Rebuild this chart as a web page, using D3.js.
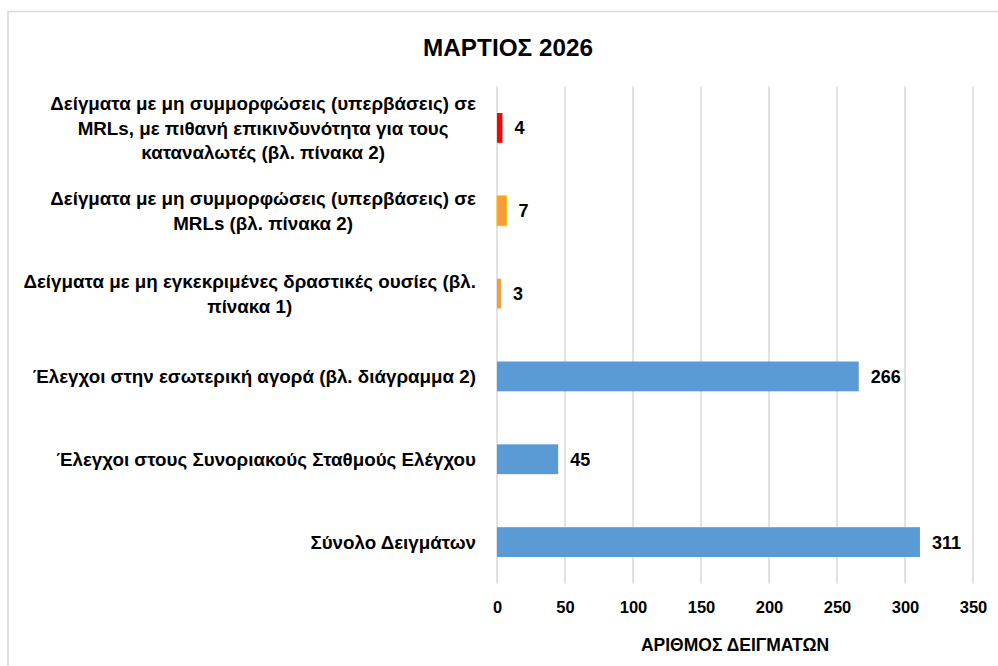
<!DOCTYPE html>
<html>
<head>
<meta charset="utf-8">
<script src="https://cdn.jsdelivr.net/npm/d3@7"></script>
<style>
  html, body { margin: 0; padding: 0; background: #fff; }
  svg { display: block; font-family: "Liberation Sans", Arial, sans-serif; }
</style>
</head>
<body>
<svg id="chart" width="998" height="666"></svg>
<script>
const categories = [
  ["Δείγματα με μη συμμορφώσεις (υπερβάσεις) σε", "MRLs, με πιθανή επικινδυνότητα για τους", "καταναλωτές (βλ. πίνακα 2)"],
  ["Δείγματα με μη συμμορφώσεις (υπερβάσεις) σε", "MRLs (βλ. πίνακα 2)"],
  ["Δείγματα με μη εγκεκριμένες δραστικές ουσίες (βλ.", "πίνακα 1)"],
  ["Έλεγχοι στην εσωτερική αγορά (βλ. διάγραμμα 2)"],
  ["Έλεγχοι στους Συνοριακούς Σταθμούς Ελέγχου"],
  ["Σύνολο Δειγμάτων"]
];
const values = [4, 7, 3, 266, 45, 311];
const barColors = ["#FF0000", "#F79B3C", "#F79B3C", "#5B9BD5", "#5B9BD5", "#5B9BD5"];
const barStrokes = ["none", "#FFC000", "none", "none", "none", "none"];
const xTicks = [0, 50, 100, 150, 200, 250, 300, 350];
const title = "ΜΑΡΤΙΟΣ 2026";
const xTitle = "ΑΡΙΘΜΟΣ ΔΕΙΓΜΑΤΩΝ";

(function () {
const svg = d3.select("#chart");
const pL = 497, pR = 973, pT = 86.5, pB = 583.5;

// outer border
svg.append("rect").attr("x", 8).attr("y", 11.5).attr("width", 1100).attr("height", 800)
  .attr("fill", "#fff").attr("stroke", "#D9D9D9").attr("stroke-width", 1.5);

const x = d3.scaleLinear().domain([0, 350]).range([pL, pR]);
const y = d3.scaleBand().domain(d3.range(categories.length)).range([pT, pB]).paddingInner(0.64).paddingOuter(0.32);

// gridlines
svg.append("g").selectAll("line").data(xTicks).join("line")
  .attr("x1", d => x(d)).attr("x2", d => x(d))
  .attr("y1", pT).attr("y2", pB)
  .attr("stroke", "#D9D9D9").attr("stroke-width", 1.5);

// x axis tick labels
const xAxis = d3.axisBottom(x).tickValues(xTicks).tickSize(0).tickPadding(0);
const gx = svg.append("g").attr("transform", `translate(0,${pB})`).call(xAxis);
gx.select(".domain").remove();
gx.selectAll("text").attr("dy", "0.36em").attr("y", 24).attr("font-size", 16.5).attr("font-weight", "bold")
  .attr("fill", "#000").attr("font-family", "Liberation Sans, Arial, sans-serif");

// bars
svg.append("g").selectAll("rect").data(values).join("rect")
  .attr("x", x(0))
  .attr("y", (d, i) => y(i))
  .attr("width", d => x(d) - x(0))
  .attr("height", y.bandwidth())
  .attr("fill", (d, i) => barColors[i])
  .attr("stroke", (d, i) => barStrokes[i])
  .attr("stroke-width", 1);

// data labels
svg.append("g").selectAll("text").data(values).join("text")
  .attr("x", d => x(d) + 12)
  .attr("y", (d, i) => y(i) + y.bandwidth() / 2)
  .attr("dy", "0.36em")
  .attr("font-size", 18).attr("font-weight", "bold").attr("fill", "#000")
  .text(d => d);

// category labels
const lineH = 24.5;
const labelRight = 476;
const gl = svg.append("g").attr("font-size", 18.8).attr("font-weight", "bold").attr("fill", "#000");
categories.forEach((lines, i) => {
  const cy = y(i) + y.bandwidth() / 2;
  const t = gl.append("text").attr("text-anchor", "middle");
  const tsp = lines.map((ln, j) => t.append("tspan")
    .attr("y", cy + (j - (lines.length - 1) / 2) * lineH)
    .attr("dy", "0.36em").text(ln));
  const w = d3.max(tsp, s => s.node().getComputedTextLength());
  tsp.forEach(s => s.attr("x", labelRight - w / 2));
});

// title
svg.append("text").attr("x", 508).attr("y", 47).attr("dy", "0.36em")
  .attr("text-anchor", "middle").attr("font-size", 24.3).attr("font-weight", "bold").text(title);

// x axis title
svg.append("text").attr("x", (pL + pR) / 2).attr("y", 645).attr("dy", "0.36em")
  .attr("text-anchor", "middle").attr("font-size", 17.5).attr("font-weight", "bold").text(xTitle);
})();
</script>
</body>
</html>
